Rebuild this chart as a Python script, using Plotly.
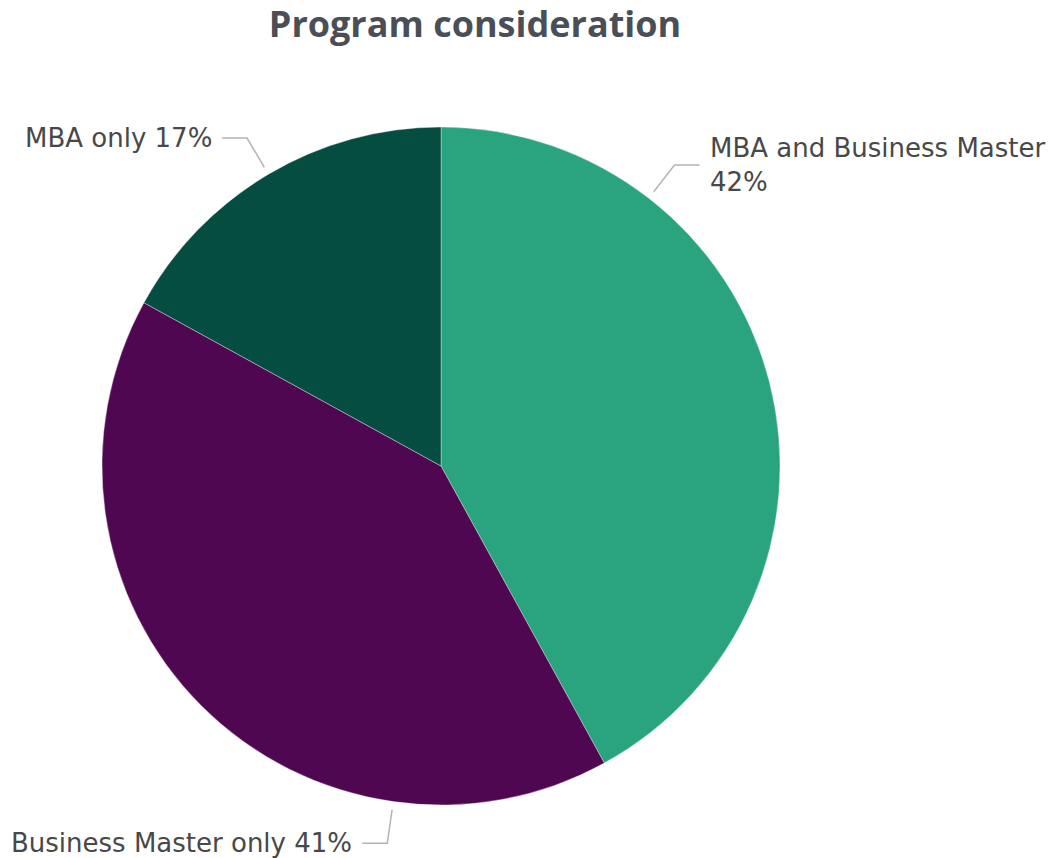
import math
import plotly.graph_objects as go

# Survey shares by program type
categories = ["MBA and Business Master", "Business Master only", "MBA only"]
shares = [42, 41, 17]
colors = ["#2aa37f", "#4e0750", "#064d41"]
# where along each slice (0 = start, 1 = end) its callout line sits
label_frac = [0.25, 0.25, 0.5]

W, H = 1058, 858
CX, CY, R = 441, 466, 339          # pie centre and radius in pixels
R_START, R_ELBOW = 347, 381        # callout line radii
ARM, GAP = 25, 8                   # horizontal arm length, text gap

fig = go.Figure(go.Pie(
    labels=categories,
    values=shares,
    sort=False,
    direction="clockwise",
    rotation=0,
    marker=dict(colors=colors, line=dict(color="rgba(255,255,255,0.6)", width=0.6)),
    textinfo="none",
    hoverinfo="label+percent",
    showlegend=False,
    domain=dict(x=[(CX - R) / W, (CX + R) / W],
                y=[1 - (CY + R) / H, 1 - (CY - R) / H]),
))


def px(x, y):
    return x / W, 1 - y / H


total = sum(shares)
start = 0.0
shapes, annotations = [], []
for name, val, frac in zip(categories, shares, label_frac):
    span = 360.0 * val / total
    ang = math.radians(start + span * frac)
    start += span
    sx, sy = CX + R_START * math.sin(ang), CY - R_START * math.cos(ang)
    ex, ey = CX + R_ELBOW * math.sin(ang), CY - R_ELBOW * math.cos(ang)
    side = 1 if math.sin(ang) >= 0 else -1
    hx = ex + side * ARM
    x0, y0 = px(sx, sy)
    x1, y1 = px(ex, ey)
    x2, y2 = px(hx, ey)
    shapes.append(dict(type="path", xref="paper", yref="paper",
                       path=f"M {x0} {y0} L {x1} {y1} L {x2} {y2}",
                       line=dict(color="#b4b4b4", width=1.5)))
    text = f"{name} {val}%"
    if len(name) > 20:
        text = f"{name}<br>{val}%"
    tx, ty = px(hx + side * GAP, ey)
    annotations.append(dict(x=tx, y=ty, xref="paper", yref="paper",
                            text=text, showarrow=False,
                            xanchor="left" if side > 0 else "right",
                            yanchor="middle", align="left",
                            font=dict(family="DejaVu Sans", size=26, color="#484848")))

fig.update_layout(
    width=W, height=H,
    margin=dict(l=0, r=0, t=0, b=0),
    paper_bgcolor="white",
    plot_bgcolor="white",
    title=dict(text="<b>Program consideration</b>",
               x=475 / W, xanchor="center",
               y=1 - 24 / H, yanchor="middle",
               font=dict(family="Open Sans", size=36, color="#4a4f57")),
    shapes=shapes,
    annotations=annotations,
)

fig.write_html("out.html")
